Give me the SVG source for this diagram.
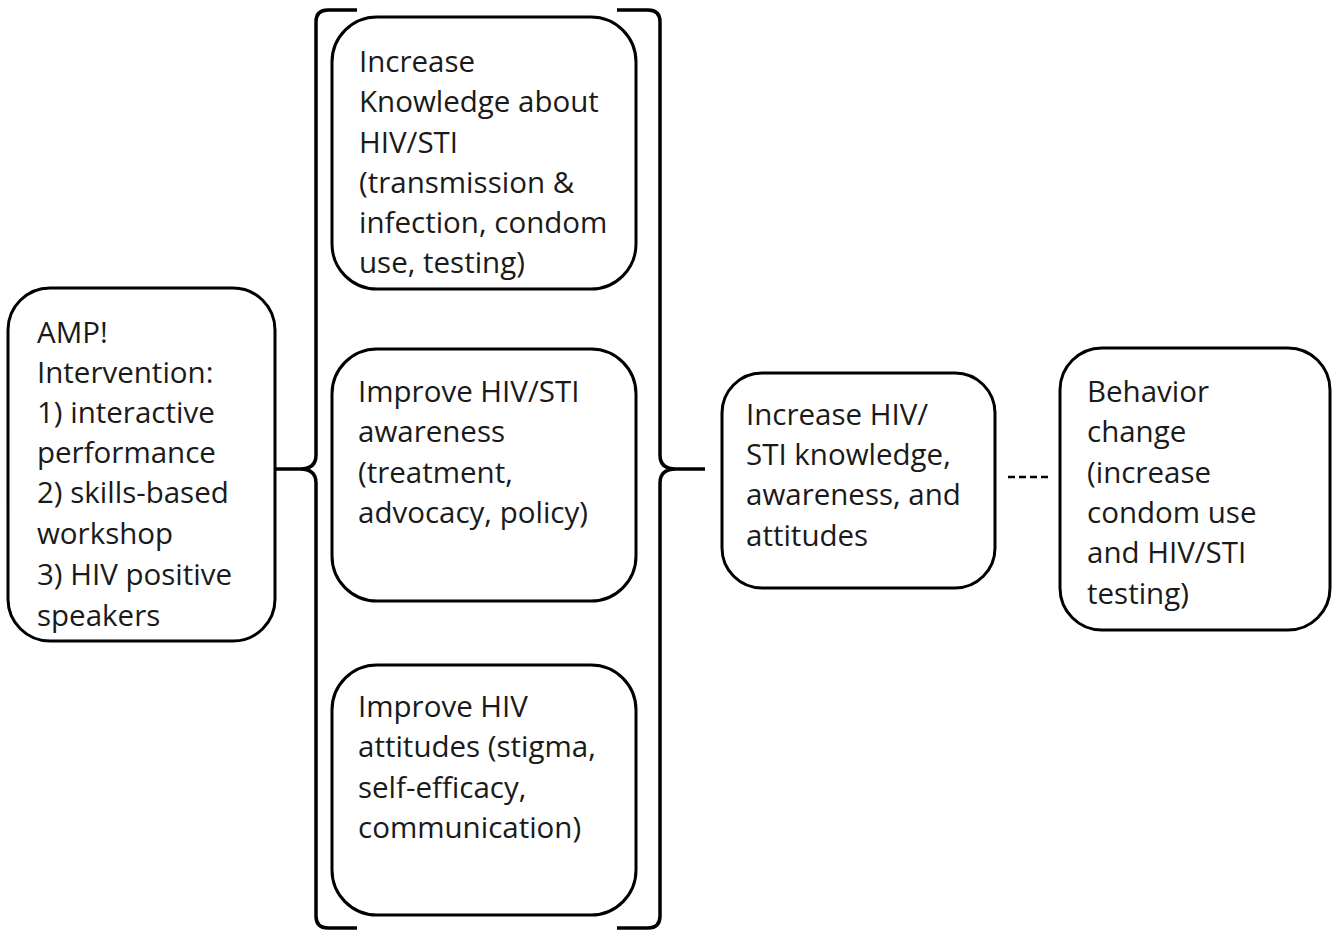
<svg xmlns="http://www.w3.org/2000/svg" width="1336" height="931" viewBox="0 0 1336 931">
<style>
.box{fill:#fff;stroke:#000;stroke-width:3}
.br{fill:none;stroke:#000;stroke-width:3.5}
text{font-family:"Open Sans","Liberation Sans",sans-serif;font-size:29.5px;fill:#1a1a1a}
</style>
<rect width="1336" height="931" fill="#fff"/>
<g id="connectors">
<path class="br" d="M357,10 L328,10 Q316,10 316,22 L316,455 Q316,469 300,469 L275,469 M300,469 Q316,469 316,483 L316,916 Q316,928 328,928 L357,928"/>
<path class="br" d="M617,10 L648,10 Q660,10 660,22 L660,455 Q660,469 676,469 L705,469 M676,469 Q660,469 660,483 L660,916 Q660,928 648,928 L617,928"/>
<line x1="1008" y1="477" x2="1048" y2="477" stroke="#000" stroke-width="2.5" stroke-dasharray="7,4"/>
</g>
<g id="amp">
<rect class="box" x="8" y="288" width="267" height="353" rx="42"/>
<text x="37" y="343">AMP!</text>
<text x="37" y="383">Intervention:</text>
<text x="37" y="423">1) interactive</text>
<text x="37" y="463">performance</text>
<text x="37" y="503">2) skills-based</text>
<text x="37" y="544">workshop</text>
<text x="37" y="585">3) HIV positive</text>
<text x="37" y="626">speakers</text>
</g>
<g id="knowledge">
<rect class="box" x="332" y="17" width="304" height="272" rx="45"/>
<text x="359" y="72">Increase</text>
<text x="359" y="112">Knowledge about</text>
<text x="359" y="153">HIV/STI</text>
<text x="359" y="193">(transmission &amp;</text>
<text x="359" y="233">infection, condom</text>
<text x="359" y="273">use, testing)</text>
</g>
<g id="awareness">
<rect class="box" x="332" y="349" width="304" height="252" rx="45"/>
<text x="358" y="402">Improve HIV/STI</text>
<text x="358" y="442">awareness</text>
<text x="358" y="483">(treatment,</text>
<text x="358" y="523">advocacy, policy)</text>
</g>
<g id="attitudes">
<rect class="box" x="332" y="665" width="304" height="250" rx="45"/>
<text x="358" y="717">Improve HIV</text>
<text x="358" y="757">attitudes (stigma,</text>
<text x="358" y="798">self-efficacy,</text>
<text x="358" y="838">communication)</text>
</g>
<g id="increase">
<rect class="box" x="722" y="373" width="273" height="215" rx="40"/>
<text x="746" y="425">Increase HIV/</text>
<text x="746" y="465">STI knowledge,</text>
<text x="746" y="505">awareness, and</text>
<text x="746" y="546">attitudes</text>
</g>
<g id="behavior">
<rect class="box" x="1060" y="348" width="270" height="282" rx="42"/>
<text x="1087" y="402">Behavior</text>
<text x="1087" y="442">change</text>
<text x="1087" y="483">(increase</text>
<text x="1087" y="523">condom use</text>
<text x="1087" y="563">and HIV/STI</text>
<text x="1087" y="604">testing)</text>
</g>
</svg>
